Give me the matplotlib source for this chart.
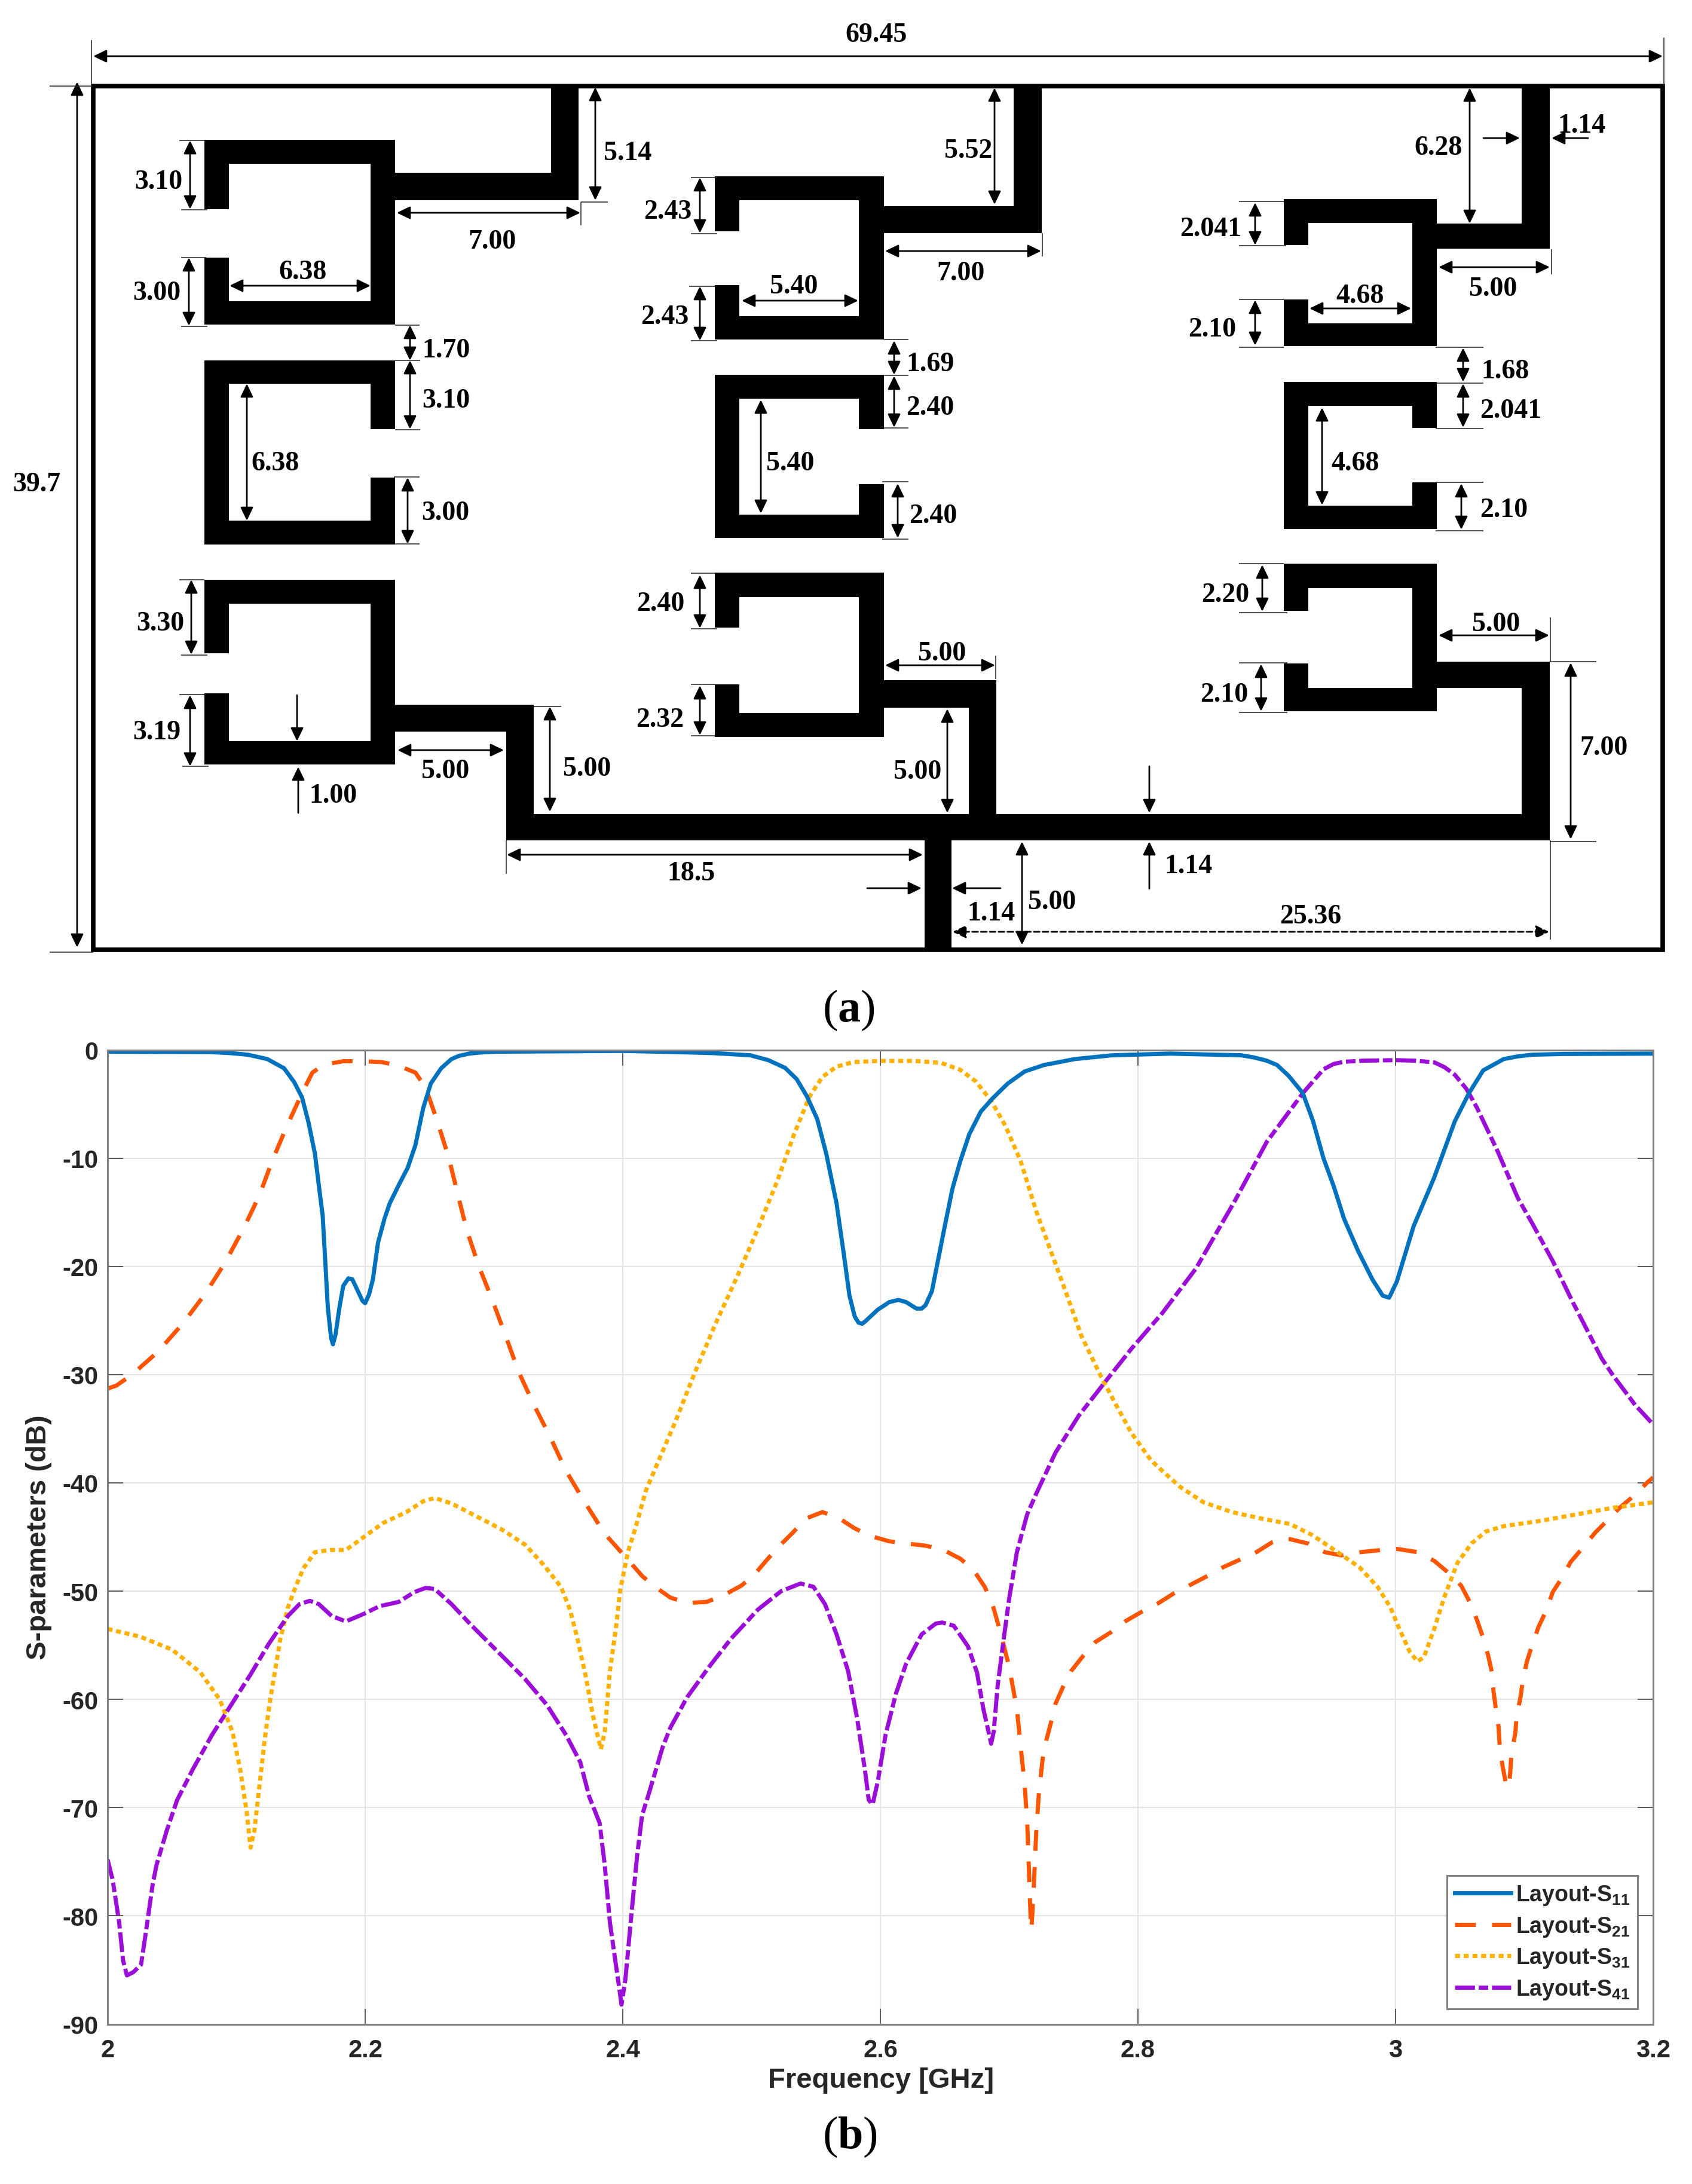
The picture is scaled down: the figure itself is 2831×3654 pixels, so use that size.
import matplotlib
matplotlib.use("Agg")
import matplotlib.pyplot as plt
from matplotlib.patches import Rectangle, FancyArrowPatch

plt.rcParams['mathtext.fontset'] = 'custom'
plt.rcParams['mathtext.rm'] = 'Liberation Serif'
plt.rcParams['mathtext.bf'] = 'Liberation Serif:bold'
plt.rcParams['mathtext.default'] = 'regular'
plt.rcParams['axes.unicode_minus'] = False

# ---------- panel (b) data ----------
S11_F = [2.0,2.079,2.095,2.109,2.124,2.137,2.145,2.151,2.156,2.161,2.164,2.167,2.169,2.171,2.1735,2.175,2.177,2.18,2.183,2.187,2.19,2.194,2.198,2.2,2.203,2.206,2.21,2.215,2.219,2.226,2.233,2.239,2.245,2.251,2.259,2.267,2.273,2.281,2.292,2.302,2.4,2.44,2.47,2.499,2.513,2.526,2.535,2.543,2.551,2.558,2.566,2.572,2.576,2.58,2.583,2.586,2.589,2.598,2.607,2.614,2.62,2.628,2.632,2.635,2.64,2.644,2.65,2.656,2.662,2.669,2.678,2.687,2.699,2.712,2.727,2.751,2.78,2.825,2.88,2.89,2.9,2.908,2.917,2.928,2.936,2.944,2.952,2.96,2.971,2.982,2.99,2.995,3.001,3.014,3.03,3.046,3.057,3.068,3.084,3.095,3.106,3.13,3.2]
S11_DB = [-0.17,-0.2,-0.3,-0.45,-0.85,-1.7,-3,-4.4,-6.7,-9.6,-12.5,-15.3,-19.5,-23.8,-26.6,-27.2,-26.3,-23.8,-21.8,-21.1,-21.2,-22.2,-23.2,-23.4,-22.6,-21.2,-17.8,-15.6,-14.2,-12.5,-10.9,-8.8,-5.4,-3.1,-1.7,-0.85,-0.55,-0.34,-0.22,-0.17,-0.1,-0.2,-0.3,-0.5,-0.95,-1.66,-2.7,-4.3,-6.4,-9.6,-14.2,-19.2,-22.7,-24.6,-25.2,-25.3,-25,-24,-23.3,-23.1,-23.3,-23.9,-23.9,-23.6,-22.3,-19.9,-16.3,-12.8,-10.3,-7.8,-5.7,-4.5,-3.1,-2,-1.4,-0.85,-0.5,-0.35,-0.5,-0.7,-1,-1.4,-2.4,-4,-6.6,-10,-12.6,-15.6,-18.6,-21.2,-22.7,-22.9,-21.4,-16.3,-11.8,-6.6,-4,-1.9,-0.85,-0.6,-0.45,-0.38,-0.35]

S21_F = [2.0,2.007,2.019,2.039,2.059,2.076,2.091,2.106,2.118,2.128,2.139,2.151,2.159,2.168,2.183,2.198,2.213,2.226,2.239,2.247,2.256,2.265,2.272,2.279,2.288,2.299,2.309,2.319,2.331,2.343,2.356,2.37,2.386,2.404,2.415,2.425,2.437,2.45,2.465,2.478,2.492,2.502,2.512,2.521,2.532,2.542,2.555,2.567,2.58,2.592,2.607,2.62,2.635,2.649,2.662,2.672,2.681,2.687,2.693,2.7,2.706,2.709,2.712,2.714,2.715,2.716,2.717,2.7175,2.719,2.721,2.723,2.726,2.729,2.733,2.736,2.742,2.748,2.758,2.767,2.779,2.79,2.803,2.816,2.828,2.841,2.854,2.866,2.879,2.892,2.904,2.913,2.918,2.932,2.945,2.958,2.973,2.989,3.001,3.017,3.03,3.041,3.051,3.058,3.063,3.068,3.072,3.075,3.076,3.078,3.08,3.081,3.083,3.086,3.088,3.089,3.09,3.093,3.094,3.097,3.099,3.102,3.106,3.111,3.117,3.122,3.129,3.136,3.146,3.155,3.165,3.174,3.186,3.196,3.2]
S21_DB = [-31.3,-31,-30,-27.9,-25.2,-22.5,-19.7,-16.4,-13.4,-10.2,-7.1,-4,-2.1,-1.36,-1.05,-1.05,-1.13,-1.47,-2.1,-3.5,-6.6,-10,-13.4,-16.7,-19.9,-23.2,-26.4,-29.7,-32.8,-35.6,-38.9,-41.7,-44.7,-47.1,-48.6,-49.6,-50.6,-51.1,-51,-50.4,-49.5,-48.5,-47.1,-45.9,-44.6,-43.3,-42.7,-43.2,-44.2,-44.9,-45.4,-45.6,-45.8,-46.2,-47,-48,-49.6,-51.2,-53.7,-57,-60.9,-64.4,-67.9,-71.3,-74.6,-78.1,-81.3,-80.8,-77.6,-72.3,-68.8,-65.5,-63.7,-61.9,-60.4,-58.8,-57.4,-55.9,-54.7,-53.8,-52.8,-51.9,-51.1,-50.2,-49.4,-48.6,-47.8,-47.1,-46.4,-45.5,-45.2,-45.2,-45.6,-46.4,-46.7,-46.4,-46.2,-46.1,-46.4,-47.2,-48.3,-49.5,-51.1,-52.6,-54.3,-56,-57.6,-59.2,-61,-62.6,-64.5,-66.1,-68,-68.1,-66.8,-65,-63.1,-61.6,-59.8,-58.1,-56.5,-55,-53.3,-51.8,-50.1,-48.8,-47.3,-45.9,-44.6,-43.4,-42.3,-41.1,-39.9,-39.5]

S31_F = [2.0,2.025,2.05,2.072,2.087,2.097,2.103,2.108,2.111,2.114,2.118,2.122,2.126,2.13,2.134,2.14,2.146,2.152,2.161,2.173,2.185,2.199,2.214,2.232,2.245,2.254,2.267,2.285,2.306,2.324,2.338,2.352,2.359,2.365,2.371,2.377,2.383,2.386,2.39,2.395,2.398,2.404,2.41,2.418,2.428,2.441,2.456,2.472,2.489,2.505,2.52,2.533,2.545,2.555,2.566,2.579,2.6,2.626,2.647,2.662,2.674,2.686,2.697,2.709,2.721,2.733,2.745,2.756,2.771,2.783,2.795,2.81,2.819,2.833,2.851,2.873,2.896,2.918,2.935,2.955,2.972,2.986,2.996,3.003,3.011,3.017,3.022,3.03,3.038,3.048,3.059,3.07,3.084,3.113,3.141,3.169,3.2]
S31_DB = [-53.5,-54.2,-55.4,-57.5,-60,-63,-66.5,-70.4,-73.7,-72.1,-67.9,-63.7,-60.2,-57.4,-54.5,-51.5,-49.6,-47.9,-46.4,-46.2,-46.2,-45,-43.7,-42.7,-41.7,-41.4,-41.9,-43,-44.3,-45.7,-47.5,-49.6,-51.7,-54.5,-57.7,-61.6,-64.6,-63,-57.4,-53.1,-49.9,-46.4,-44.1,-40.7,-37.9,-34.3,-29.8,-25.3,-20.9,-16.5,-12.1,-7.8,-4.3,-2.5,-1.55,-1.13,-1.02,-1.02,-1.2,-1.84,-2.9,-4.7,-7,-10.3,-14.9,-18.8,-22.7,-26.4,-30.1,-32.8,-35.4,-37.9,-38.9,-40.4,-41.8,-42.7,-43.3,-43.8,-44.8,-46.4,-47.8,-49.6,-51.5,-53.5,-55.6,-56.5,-56.1,-53.5,-50.5,-47.4,-45.6,-44.5,-44,-43.5,-42.9,-42.3,-41.8]

S41_F = [2.0,2.004,2.009,2.012,2.015,2.02,2.026,2.03,2.035,2.038,2.046,2.054,2.066,2.081,2.096,2.111,2.125,2.14,2.149,2.157,2.164,2.174,2.185,2.199,2.211,2.226,2.238,2.247,2.254,2.267,2.282,2.303,2.324,2.341,2.356,2.367,2.374,2.382,2.386,2.39,2.395,2.398,2.399,2.402,2.407,2.411,2.415,2.42,2.431,2.437,2.45,2.467,2.484,2.505,2.523,2.538,2.548,2.557,2.566,2.575,2.582,2.588,2.591,2.594,2.598,2.604,2.612,2.62,2.632,2.643,2.648,2.657,2.668,2.675,2.68,2.684,2.686,2.688,2.691,2.696,2.7,2.706,2.714,2.721,2.736,2.754,2.775,2.795,2.819,2.845,2.875,2.9,2.928,2.944,2.952,2.96,2.975,3.0,3.015,3.03,3.038,3.046,3.055,3.063,3.079,3.095,3.106,3.122,3.138,3.16,3.169,3.186,3.2]
S41_DB = [-74.8,-76.7,-80.6,-84.1,-85.5,-85.2,-84.5,-81.3,-77.1,-75.3,-72.1,-69.3,-66.5,-63.3,-60.5,-57.7,-54.9,-52.3,-51.2,-50.9,-51.2,-52.3,-52.8,-52.1,-51.4,-51,-50.1,-49.7,-49.8,-51.2,-53.1,-55.6,-58.1,-60.5,-63.3,-65.8,-69,-71.4,-75.3,-80.6,-84.8,-87.3,-88.2,-85.9,-79.5,-74.6,-70.7,-68.8,-64.4,-62.6,-59.8,-57,-54.4,-51.7,-50,-49.3,-49.6,-51.2,-54,-57.4,-61.8,-66.5,-69.3,-69.7,-67.6,-63.3,-59.5,-56.7,-54,-53,-52.9,-53.2,-55.1,-57.5,-60.9,-63,-64.1,-63,-58.8,-54.2,-50.7,-46.4,-42.9,-41,-37.2,-33.8,-30.6,-27.6,-24.3,-20.2,-14,-8.5,-4,-1.8,-1.3,-1.1,-1,-0.95,-1,-1.15,-1.6,-2.3,-3.6,-5.3,-9.3,-13.7,-16,-19.5,-23.4,-28.5,-30.1,-32.8,-34.6]

SERIES_LABELS = ['Layout-S$_{11}$', 'Layout-S$_{21}$', 'Layout-S$_{31}$', 'Layout-S$_{41}$']
X_TICKS = [2.0, 2.2, 2.4, 2.6, 2.8, 3.0, 3.2]
X_TICK_LABELS = ['2', '2.2', '2.4', '2.6', '2.8', '3', '3.2']
Y_TICKS = list(range(-90, 1, 10))

# ---------- panel (a) layout geometry, in the layout drawing's own units ----------
BOARD = (156, 145, 2782, 1590)
# x0, xi0, xi1, x1, y0, yi0, stub_upper_end, stub_lower_start, yi1, y1, open side
RESONATORS = [
    (342, 383, 620, 661, 235, 275, 351, 432, 505, 544, 'L'),
    (342, 383, 620, 661, 604, 643, 719, 800, 872, 912, 'R'),
    (342, 383, 620, 661, 971, 1011, 1094, 1161, 1241, 1280, 'L'),
    (1196, 1237, 1437, 1479, 296, 336, 388, 478, 530, 569, 'L'),
    (1196, 1237, 1437, 1479, 628, 668, 719, 811, 862, 901, 'R'),
    (1196, 1237, 1437, 1479, 959, 1000, 1051, 1146, 1194, 1234, 'L'),
    (2148, 2189, 2363, 2404, 334, 374, 411, 502, 542, 580, 'L'),
    (2148, 2189, 2363, 2404, 640, 680, 717, 808, 847, 886, 'R'),
    (2148, 2189, 2363, 2404, 944, 985, 1023, 1111, 1152, 1191, 'L'),
]
# x0, y0, x1, y1
TRACES = [
    (661, 290, 968, 336), (922, 145, 968, 336),
    (661, 1180, 893, 1225), (847, 1180, 893, 1407),
    (847, 1363, 2593, 1407), (1547, 1407, 1592, 1590),
    (1479, 346, 1743, 391), (1696, 145, 1743, 391),
    (1479, 1139, 1667, 1185), (1621, 1139, 1667, 1363),
    (2404, 375, 2593, 417), (2546, 145, 2593, 417),
    (2404, 1108, 2593, 1152), (2546, 1108, 2593, 1407),
]
# both heads: x0, y0, x1, y1
DIM_ARROWS = [
    (156, 95, 2782, 95), (129, 138, 129, 1586),
    (318, 236, 318, 351), (316, 432, 316, 546), (664, 357, 971, 357), (384, 479, 620, 479),
    (996, 147, 996, 336), (686, 545, 686, 604), (686, 604, 686, 719), (413, 643, 413, 872),
    (682, 800, 682, 911), (320, 971, 320, 1096), (318, 1164, 318, 1283), (665, 1256, 843, 1256),
    (920, 1183, 920, 1359), (848, 1431, 1544, 1431), (1710, 1409, 1710, 1582),
    (1171, 298, 1171, 391), (1171, 480, 1171, 571), (1241, 504, 1436, 504), (1664, 148, 1664, 343),
    (1481, 421, 1742, 421), (1496, 571, 1496, 628), (1496, 630, 1496, 716), (1273, 670, 1273, 860),
    (1502, 810, 1502, 901), (1171, 963, 1171, 1052), (1171, 1148, 1171, 1231), (1481, 1114, 1665, 1114),
    (1585, 1187, 1585, 1361), (2459, 148, 2459, 375), (2100, 340, 2100, 411), (2100, 503, 2100, 579),
    (2191, 517, 2361, 517), (2407, 448, 2593, 448), (2448, 583, 2448, 640), (2448, 643, 2448, 716),
    (2212, 683, 2212, 846), (2445, 810, 2445, 887), (2112, 946, 2112, 1024), (2110, 1112, 2110, 1191),
    (2407, 1064, 2592, 1064), (2628, 1110, 2628, 1405),
]
# one head, pointing at the end: x0, y0, x1, y1
POINT_ARROWS = [
    (497, 1164, 497, 1241), (499, 1361, 499, 1284),
    (1451, 1487, 1542, 1487), (1674, 1487, 1593, 1487),
    (1923, 1283, 1923, 1361), (1923, 1488, 1923, 1409),
    (2482, 232, 2543, 232), (2657, 232, 2596, 232),
]
DASHED_ARROW = (1594, 1560, 2592, 1560)
# thin extension lines: x0, y0, x1, y1
EXT_LINES = [
    (153, 68, 153, 145), (2784, 64, 2784, 145), (83, 145, 156, 145), (83, 1594, 156, 1594),
    (300, 236, 342, 236), (303, 352, 347, 352), (303, 432, 345, 432), (303, 547, 347, 547),
    (972, 339, 972, 378), (972, 339, 1017, 339), (661, 545, 702, 545), (661, 604, 703, 604),
    (661, 720, 703, 720), (659, 799, 702, 799), (661, 911, 702, 911), (300, 971, 342, 971),
    (303, 1097, 347, 1097), (300, 1163, 342, 1163), (305, 1283, 349, 1283), (893, 1183, 939, 1183),
    (847, 1407, 847, 1463), (2594, 1407, 2594, 1573), (2594, 1034, 2594, 1108),
    (1156, 298, 1200, 298), (1156, 392, 1200, 392), (1153, 480, 1196, 480), (1156, 571, 1200, 571),
    (1744, 391, 1744, 430), (1479, 569, 1520, 569), (1479, 629, 1520, 629), (1479, 717, 1520, 717),
    (1476, 807, 1520, 807), (1476, 903, 1520, 903), (1156, 960, 1196, 960), (1156, 1053, 1200, 1053),
    (1156, 1146, 1196, 1146), (1156, 1232, 1196, 1232), (1666, 1098, 1666, 1137),
    (2073, 338, 2148, 338), (2073, 412, 2152, 412), (2073, 502, 2148, 502), (2073, 582, 2148, 582),
    (2402, 582, 2482, 582), (2596, 418, 2596, 460), (2402, 642, 2482, 642), (2402, 718, 2482, 718),
    (2402, 808, 2482, 808), (2402, 889, 2482, 889), (2073, 944, 2148, 944), (2073, 1026, 2154, 1026),
    (2073, 1110, 2154, 1110), (2073, 1193, 2154, 1193), (2593, 1108, 2671, 1108), (2593, 1409, 2671, 1409),
]
# text, centre x, centre y
DIM_LABELS = [
    ('69.45', 1466, 55), ('39.7', 61, 807), ('3.10', 265, 301), ('3.00', 262, 487), ('7.00', 823, 401),
    ('6.38', 507, 452), ('5.14', 1050, 253), ('1.70', 746, 583), ('3.10', 746, 667), ('6.38', 460, 772),
    ('3.00', 745, 855), ('3.30', 268, 1040), ('3.19', 262, 1222), ('1.00', 557, 1328), ('5.00', 745, 1287),
    ('5.00', 982, 1283), ('18.5', 1157, 1458), ('1.14', 1658, 1525), ('5.00', 1760, 1506), ('25.36', 2193, 1530),
    ('1.14', 1988, 1446), ('2.43', 1117, 351), ('2.43', 1112, 527), ('5.40', 1328, 476), ('5.52', 1620, 249),
    ('7.00', 1608, 454), ('1.69', 1556, 606), ('2.40', 1556, 679), ('5.40', 1322, 772), ('2.40', 1561, 860),
    ('2.40', 1105, 1007), ('2.32', 1104, 1201), ('5.00', 1576, 1090), ('5.00', 1535, 1288), ('6.28', 2406, 244),
    ('1.14', 2647, 207), ('2.041', 2026, 380), ('2.10', 2028, 548), ('4.68', 2276, 492), ('5.00', 2498, 480),
    ('1.68', 2518, 618), ('2.041', 2528, 684), ('4.68', 2268, 772), ('2.10', 2516, 850), ('2.20', 2050, 992),
    ('2.10', 2048, 1159), ('5.00', 2503, 1041), ('7.00', 2683, 1248),
]
PANEL_LABELS = [(r'($\mathbf{a}$)', 1420, 1690), (r'($\mathbf{b}$)', 1422, 3575)]

# ---------- figure ----------
W, H = 2831, 3655
fig = plt.figure(figsize=(W / 100, H / 100), dpi=100, facecolor='white')

lay = fig.add_axes([0, 0, 1, 1])
lay.set_xlim(0, W)
lay.set_ylim(H, 0)
lay.axis('off')


def bar(x0, y0, x1, y1):
    lay.add_patch(Rectangle((x0, y0), x1 - x0, y1 - y0, fc='black', ec='none'))


for (x0, xi0, xi1, x1, y0, yi0, su, sl, yi1, y1, side) in RESONATORS:
    bar(x0, y0, x1, yi0)
    bar(x0, yi1, x1, y1)
    if side == 'L':
        bar(xi1, y0, x1, y1)
        bar(x0, y0, xi0, su)
        bar(x0, sl, xi0, y1)
    else:
        bar(x0, y0, xi0, y1)
        bar(xi1, y0, x1, su)
        bar(xi1, sl, x1, y1)
for t in TRACES:
    bar(*t)

bx0, by0, bx1, by1 = BOARD
lay.add_patch(Rectangle((bx0, by0), bx1 - bx0, by1 - by0, fc='none', ec='black', lw=5.5))

for x0, y0, x1, y1 in EXT_LINES:
    lay.plot([x0, x1], [y0, y1], color='#222222', lw=1.1, solid_capstyle='butt')


def arrow(x0, y0, x1, y1, style, ls='-'):
    lay.add_patch(FancyArrowPatch((x0, y0), (x1, y1), arrowstyle=style, mutation_scale=1,
                                  shrinkA=0, shrinkB=0, color='black', lw=2.0, linestyle=ls))


BOTH = '<|-|>,head_length=13.5,head_width=6.5'
ONE = '-|>,head_length=13.5,head_width=6.5'
for a in DIM_ARROWS:
    arrow(*a, BOTH)
for a in POINT_ARROWS:
    arrow(*a, ONE)
arrow(*DASHED_ARROW, BOTH, ls=(0, (3.5, 1.8)))

for s, x, y in DIM_LABELS:
    lay.text(x, y + 4, s, family='Liberation Serif', weight='bold', fontsize=33,
             ha='center', va='center', color='black')
for s, x, y in PANEL_LABELS:
    lay.text(x, y, s, family='Liberation Serif', fontsize=55, ha='center', va='center', color='black')

# ---------- S-parameter chart ----------
AL, AR, AT, AB = 180, 2766, 1757.5, 3387.5
ax = fig.add_axes([AL / W, 1 - AB / H, (AR - AL) / W, (AB - AT) / H])
ax.set_xlim(2, 3.2)
ax.set_ylim(-90, 0)
ax.set_xticks(X_TICKS)
ax.set_xticklabels(X_TICK_LABELS)
ax.set_yticks(Y_TICKS)
ax.grid(True, color='#e4e4e4', lw=1.5)
ax.set_axisbelow(True)
ax.tick_params(direction='in', length=18.5, width=1.2, color='#404040', top=True, right=True,
               labelsize=30, labelcolor='#262626')
ax.tick_params(axis='x', pad=17)
ax.tick_params(axis='y', pad=11)
for lab in ax.get_xticklabels() + ax.get_yticklabels():
    lab.set_family('Liberation Sans')
    lab.set_weight('bold')
for sp in ax.spines.values():
    sp.set_color('#808080')
    sp.set_linewidth(2.2)

LW = 5.0
ax.plot(S21_F, S21_DB, color='#FF5500', lw=LW, ls=(0, (5.0, 3.9)), label=SERIES_LABELS[1])
ax.plot(S31_F, S31_DB, color='#FFB000', lw=LW, ls=(0, (1.2, 0.9)), label=SERIES_LABELS[2])
ax.plot(S41_F, S41_DB, color='#9A0ED8', lw=LW, ls=(0, (4.8, 0.9, 2.3, 0.9)), label=SERIES_LABELS[3])
ax.plot(S11_F, S11_DB, color='#0072BD', lw=LW, label=SERIES_LABELS[0], solid_joinstyle='round')

h, l = ax.get_legend_handles_labels()
order = [3, 0, 1, 2]
leg = ax.legend([h[i] for i in order], [l[i] for i in order], loc='lower right',
                bbox_to_anchor=((2740 - AL) / (AR - AL), (AB - 3362) / (AB - AT)),
                borderaxespad=0, fancybox=False, framealpha=1, edgecolor='#808080',
                prop={'family': 'Liberation Sans', 'weight': 'bold', 'size': 27},
                handlelength=2.5, handletextpad=0.2, labelspacing=0.36, borderpad=0.35)
leg.get_frame().set_linewidth(2.2)
for t in leg.get_texts():
    t.set_color('#262626')

ax.set_xlabel('Frequency [GHz]', family='Liberation Sans', weight='bold', fontsize=34,
              color='#262626', va='center')
ax.xaxis.set_label_coords((1474 - AL) / (AR - AL), -(3481 - AB) / (AB - AT))
ax.set_ylabel('S-parameters (dB)', family='Liberation Sans', weight='bold', fontsize=34,
              color='#262626', va='center')
ax.yaxis.set_label_coords((65 - AL) / (AR - AL), (AB - 2572) / (AB - AT))

fig.savefig('out.png', dpi=100, facecolor='white')
